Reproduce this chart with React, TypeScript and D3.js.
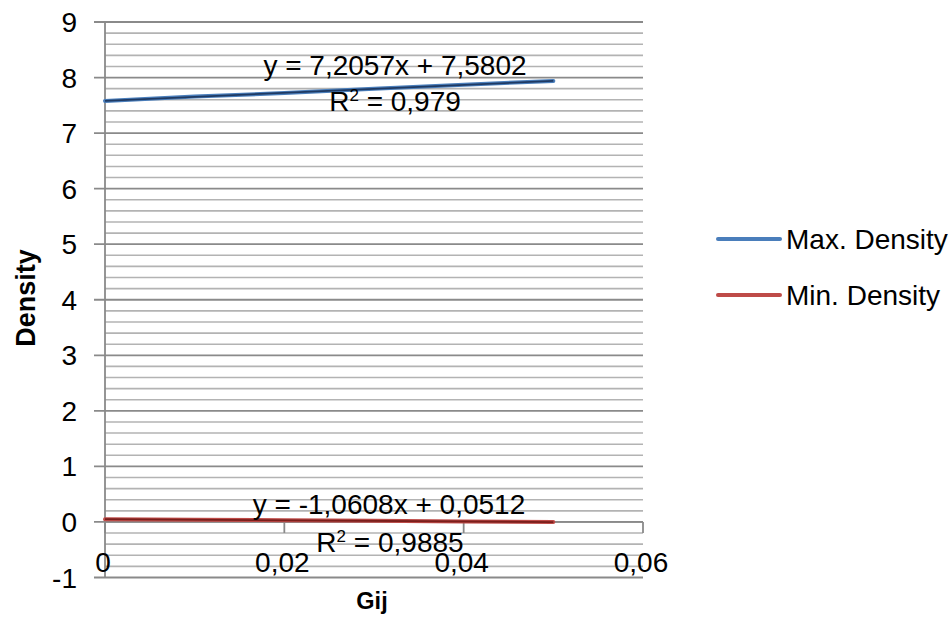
import React from "react";
import * as d3 from "d3";

const xValues = [0, 0.01, 0.02, 0.03, 0.04, 0.05];
const maxDensity = [7.58, 7.66, 7.72, 7.80, 7.87, 7.94];
const minDensity = [0.05, 0.04, 0.03, 0.02, 0.01, 0.0];
const seriesNames = ["Max. Density", "Min. Density"];
const seriesColors = ["#4a7ebb", "#be4b48"];
const trendColors = ["#1f3a63", "#7a1f1c"];
const trendSlope = [7.2057, -1.0608];
const trendIntercept = [7.5802, 0.0512];
const trendEq = ["y = 7,2057x + 7,5802", "y = -1,0608x + 0,0512"];
const trendR2 = ["0,979", "0,9885"];
const xTicks = [0, 0.02, 0.04, 0.06];
const xTickLabels = ["0", "0,02", "0,04", "0,06"];
const yTicks = [-1, 0, 1, 2, 3, 4, 5, 6, 7, 8, 9];

const FONT = "'Liberation Sans', Arial, sans-serif";

export default function App() {
  const W = 952, H = 621;
  const x = d3.scaleLinear().domain([0, 0.06]).range([105, 643]);
  const y = d3.scaleLinear().domain([-1, 9]).range([577.5, 22]);
  const minor = d3.range(-1, 9.0001, 0.2).map((v) => Math.round(v * 10) / 10);
  const line = d3.line<[number, number]>().x((d) => x(d[0])).y((d) => y(d[1]));
  const series = [maxDensity, minDensity];
  const fs = 28;

  return (
    <svg width={W} height={H} style={{ position: "absolute", left: 0, top: 0, background: "#fff" }}>
      {/* minor gridlines */}
      {minor.filter((v) => Math.abs(v - Math.round(v)) > 0.01).map((v, i) => (
        <line key={"m" + i} x1={x(0)} x2={x(0.06)} y1={y(v)} y2={y(v)} stroke="#b3b3b3" strokeWidth={1.6} />
      ))}
      {/* major gridlines */}
      {yTicks.map((v) => (
        <line key={"g" + v} x1={x(0) - 11} x2={x(0.06)} y1={y(v)} y2={y(v)} stroke="#8a8a8a" strokeWidth={1.8} />
      ))}
      {/* y axis */}
      <line x1={x(0)} x2={x(0)} y1={y(9)} y2={y(-1)} stroke="#8a8a8a" strokeWidth={1.8} />
      {/* x axis at y=0 */}
      <line x1={x(0)} x2={x(0.06)} y1={y(0)} y2={y(0)} stroke="#8a8a8a" strokeWidth={1.8} />
      {xTicks.map((v) => (
        <line key={"xt" + v} x1={x(v)} x2={x(v)} y1={y(0)} y2={y(0) + 11} stroke="#8a8a8a" strokeWidth={1.8} />
      ))}
      {/* y tick labels */}
      {yTicks.map((v) => (
        <text key={"yl" + v} x={77} y={y(v) + 10} textAnchor="end" fontFamily={FONT} fontSize={fs} fill="#000">
          {String(v)}
        </text>
      ))}
      {/* x tick labels */}
      {xTicks.map((v, i) => (
        <text key={"xl" + v} x={x(v) - 2} y={572} textAnchor="middle" fontFamily={FONT} fontSize={fs} fill="#000">
          {xTickLabels[i]}
        </text>
      ))}
      {/* series */}
      {series.map((s, si) => (
        <path key={"s" + si} d={line(xValues.map((xv, i) => [xv, s[i]]) as [number, number][]) || ""}
          fill="none" stroke={seriesColors[si]} strokeWidth={4} strokeLinecap="round" />
      ))}
      {/* trendlines */}
      {series.map((_, si) => {
        const x0 = xValues[0], x1 = xValues[xValues.length - 1];
        return (
          <line key={"t" + si} x1={x(x0)} x2={x(x1)} y1={y(trendSlope[si] * x0 + trendIntercept[si])}
            y2={y(trendSlope[si] * x1 + trendIntercept[si])} stroke={trendColors[si]} strokeWidth={1.8} />
        );
      })}
      {/* trend labels */}
      <text x={395} y={75} textAnchor="middle" fontFamily={FONT} fontSize={fs} fill="#000">{trendEq[0]}</text>
      <text x={395} y={111} textAnchor="middle" fontFamily={FONT} fontSize={fs} fill="#000">
        R<tspan dy={-10} fontSize={17}>2</tspan><tspan dy={10}>{" = " + trendR2[0]}</tspan>
      </text>
      <text x={389} y={514} textAnchor="middle" fontFamily={FONT} fontSize={fs} fill="#000">{trendEq[1]}</text>
      <text x={390} y={552} textAnchor="middle" fontFamily={FONT} fontSize={fs} fill="#000">
        R<tspan dy={-10} fontSize={17}>2</tspan><tspan dy={10}>{" = " + trendR2[1]}</tspan>
      </text>
      {/* axis titles */}
      <text transform={`translate(35,298) rotate(-90)`} textAnchor="middle" fontFamily={FONT} fontSize={27} fontWeight="bold" fill="#000">Density</text>
      <text x={372} y={609} textAnchor="middle" fontFamily={FONT} fontSize={23.5} fontWeight="bold" fill="#000">Gij</text>
      {/* legend */}
      {seriesNames.map((n, i) => (
        <g key={"lg" + i}>
          <line x1={718} x2={780} y1={239 + i * 56} y2={239 + i * 56} stroke={seriesColors[i]} strokeWidth={4} strokeLinecap="round" />
          <text x={786} y={239 + i * 56 + 10} fontFamily={FONT} fontSize={fs} fill="#000">{n}</text>
        </g>
      ))}
    </svg>
  );
}
